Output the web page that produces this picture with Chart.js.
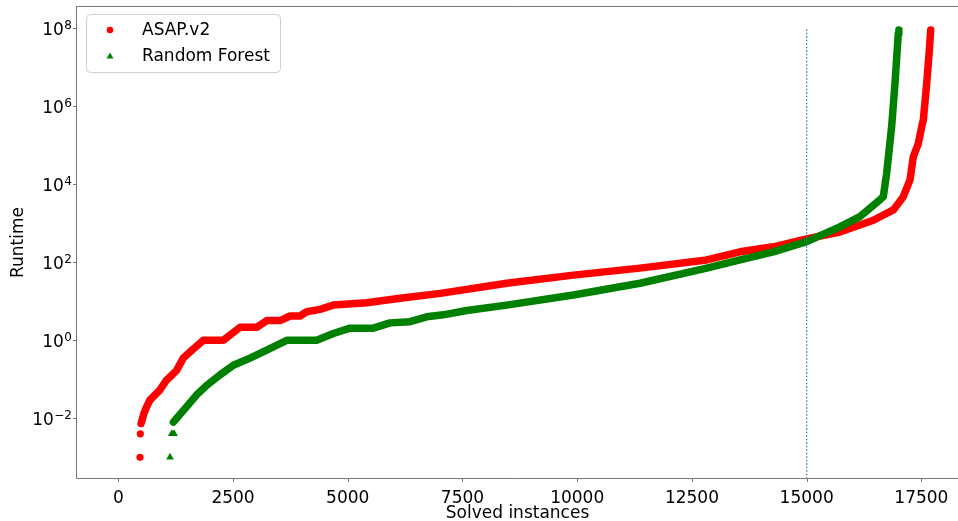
<!DOCTYPE html>
<html>
<head>
<meta charset="utf-8">
<script src="https://cdn.jsdelivr.net/npm/chart.js@4.4.0/dist/chart.umd.min.js"></script>
<style>
  html, body { margin: 0; padding: 0; background: #fff; overflow: hidden; }
  canvas { display: block; }
</style>
</head>
<body>
<canvas id="chart" width="958" height="521"></canvas>
<script>
// values
const asapX = [497, 560, 619, 690, 909, 1050, 1272, 1416, 1634, 1852, 2288, 2652, 3016, 3234, 3524, 3742, 3960, 4105, 4395, 4686, 5413, 6139, 7019, 8464, 9916, 11368, 12822, 13547, 14274, 15000, 15724, 16453, 16889, 17106, 17252, 17324, 17434, 17507, 17543, 17616, 17674, 17703];
const asapY = [0.0074, 0.0135, 0.02, 0.0295, 0.054, 0.095, 0.17, 0.35, 0.6, 1, 1, 2.15, 2.15, 3.2, 3.2, 4.2, 4.2, 5.4, 6.2, 8, 9.2, 12, 16, 29, 47, 71, 115, 186, 250, 400, 600, 1200, 2200, 4800, 13000, 51000, 112000, 300000, 450000, 3.9e6, 2.75e7, 9.1e7];
const asapLowX = [473, 480];
const asapLowY = [0.001, 0.004];

const rfX = [1200, 1272, 1490, 1708, 1926, 2216, 2506, 2870, 3234, 3670, 4323, 4686, 5049, 5557, 5921, 6357, 6720, 7082, 7592, 8464, 9916, 11368, 12822, 13547, 14274, 15000, 15724, 16160, 16596, 16670, 16743, 16852, 16925, 16997, 17010];
const rfY = [0.008, 0.01, 0.02, 0.04, 0.07, 0.13, 0.23, 0.35, 0.56, 1, 1, 1.5, 2.05, 2.05, 2.8, 3.0, 4.0, 4.5, 5.8, 8, 14.5, 29, 71, 115, 186, 340, 810, 1480, 4000, 4800, 19000, 300000, 3.9e6, 7.4e7, 9.1e7];
const rfLowX = [1127, 1165, 1215];
const rfLowY = [0.001, 0.004, 0.004];

const cutX = [15000, 15000];
const cutY = [1e-4, 1e8];

const xTicks = [0, 2500, 5000, 7500, 10000, 12500, 15000, 17500];
const yTicks = [1e-2, 1, 1e2, 1e4, 1e6, 1e8];

const legendItems = [
  { label: 'ASAP.v2', color: '#ff0000', shape: 'circle' },
  { label: 'Random Forest', color: '#008000', shape: 'triangle' },
];

const FONT = '"DejaVu Sans", sans-serif';

const pts = (xs, ys) => xs.map((x, i) => ({ x, y: ys[i] }));

function curve(xs, ys, color, order) {
  return {
    data: pts(xs, ys), showLine: true, borderColor: color, borderWidth: 7.5,
    borderCapStyle: 'round', borderJoinStyle: 'round', pointRadius: 0, order,
  };
}

const framePlugin = {
  id: 'frame',
  afterDraw(chart) {
    const { ctx, chartArea: a, width } = chart;
    const xs = chart.scales.x, ys = chart.scales.y;
    ctx.save();
    // left, top and bottom spines; the right one falls outside the picture
    ctx.strokeStyle = '#777';
    ctx.lineWidth = 1;
    ctx.beginPath();
    ctx.moveTo(width, a.top - 0.5);
    ctx.lineTo(a.left - 0.5, a.top - 0.5);
    ctx.lineTo(a.left - 0.5, a.bottom + 0.5);
    ctx.lineTo(width, a.bottom + 0.5);
    // tick marks
    xTicks.forEach(v => {
      const px = Math.round(xs.getPixelForValue(v)) + 0.5;
      ctx.moveTo(px, a.bottom + 0.5);
      ctx.lineTo(px, a.bottom + 4);
    });
    yTicks.forEach(v => {
      const py = Math.round(ys.getPixelForValue(v)) + 0.5;
      ctx.moveTo(a.left - 0.5, py);
      ctx.lineTo(a.left - 4, py);
    });
    ctx.stroke();

    // y tick labels as 10 with a raised exponent
    ctx.fillStyle = '#000';
    ctx.textBaseline = 'alphabetic';
    ctx.textAlign = 'right';
    yTicks.forEach(v => {
      const py = ys.getPixelForValue(v);
      const exp = String(Math.round(Math.log10(v))).replace('-', '\u2212');
      ctx.font = '12px ' + FONT;
      const ew = ctx.measureText(exp).width;
      ctx.fillText(exp, 72, py + 0.7);
      ctx.font = '17px ' + FONT;
      ctx.fillText('10', 72 - ew - 0.5, py + 6.7);
    });

    // legend box
    const bx = 86.5, by = 14.5, bw = 194, bh = 58;
    ctx.beginPath();
    ctx.roundRect(bx, by, bw, bh, 4);
    ctx.fillStyle = 'rgba(255,255,255,0.8)';
    ctx.fill();
    ctx.strokeStyle = '#d0d0d0';
    ctx.stroke();
    ctx.font = '17px ' + FONT;
    ctx.textAlign = 'left';
    ctx.textBaseline = 'middle';
    legendItems.forEach((it, i) => {
      const cy = 30 + i * 26;
      ctx.fillStyle = it.color;
      ctx.beginPath();
      if (it.shape === 'circle') {
        ctx.arc(110, cy, 3.3, 0, Math.PI * 2);
      } else {
        ctx.moveTo(110, cy - 3.6);
        ctx.lineTo(113.5, cy + 2.6);
        ctx.lineTo(106.5, cy + 2.6);
        ctx.closePath();
      }
      ctx.fill();
      ctx.fillStyle = '#000';
      ctx.fillText(it.label, 142, cy + 1);
    });
    ctx.restore();
  }
};

new Chart(document.getElementById('chart'), {
  type: 'scatter',
  data: {
    datasets: [
      curve(asapX, asapY, '#ff0000', 3),
      { data: pts(asapLowX, asapLowY), pointRadius: 3.6, pointStyle: 'circle', backgroundColor: '#ff0000', borderWidth: 0, order: 3 },
      curve(rfX, rfY, '#008000', 2),
      { data: pts(rfLowX, rfLowY), pointRadius: 4.5, pointStyle: 'triangle', backgroundColor: '#008000', borderWidth: 0, order: 2 },
      { data: pts(cutX, cutY), showLine: true, borderColor: '#1f77b4', borderWidth: 1.2, borderDash: [1.5, 2], pointRadius: 0, order: 1 },
    ]
  },
  options: {
    responsive: false,
    animation: false,
    events: [],
    layout: { autoPadding: false, padding: { top: 7, right: 0, left: 0, bottom: 0 } },
    plugins: { legend: { display: false }, tooltip: { enabled: false } },
    scales: {
      x: {
        type: 'linear', min: -900, max: 18298,
        afterBuildTicks: s => { s.ticks = xTicks.map(v => ({ value: v })); },
        afterFit: s => { s.height = 43; s.paddingLeft = 0; s.paddingRight = 0; },
        grid: { display: false, tickLength: 4 },
        border: { display: false },
        ticks: { font: { family: FONT, size: 17 }, color: '#000', padding: 6, maxRotation: 0, autoSkip: false, callback: v => String(v) },
        title: { display: true, text: 'Solved instances', font: { family: FONT, size: 17 }, color: '#000', padding: { top: 0, bottom: -3 } },
      },
      y: {
        type: 'logarithmic', min: Math.pow(10, -3.53), max: Math.pow(10, 8.546),
        afterBuildTicks: s => { s.ticks = yTicks.map(v => ({ value: v })); },
        afterFit: s => { s.width = 77; s.paddingTop = 0; s.paddingBottom = 0; },
        grid: { display: false },
        border: { display: false },
        ticks: { display: false },
        title: { display: true, text: 'Runtime', font: { family: FONT, size: 17 }, color: '#000', padding: { top: 8, bottom: 0 } },
      }
    }
  },
  plugins: [framePlugin]
});
</script>
</body>
</html>
